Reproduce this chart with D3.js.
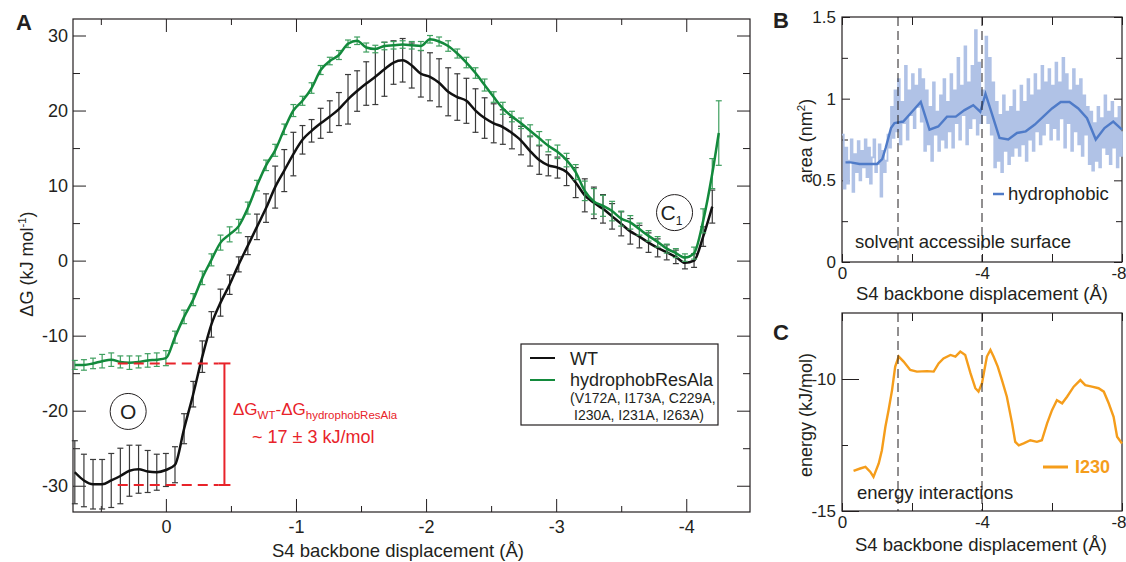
<!DOCTYPE html>
<html lang="en">
<head>
<meta charset="utf-8">
<title>S4 free energy profiles</title>
<script src="https://cdn.jsdelivr.net/npm/d3@7/dist/d3.min.js"></script>
<style>
body { margin: 0; background: #fff; }
svg text { font-family: "Liberation Sans", Arial, sans-serif; fill: #231f20; }
.axis .domain { display: none; }
.axis line { stroke: #231f20; stroke-width: 1; }
.axis text { font-size: 17px; }
.axis.big text { font-size: 18px; }
</style>
</head>
<body>
<script>
// ---- panel A : free energy along S4 displacement ----
var dispA = [0.70, 0.63, 0.56, 0.49, 0.42, 0.35, 0.28, 0.21, 0.14, 0.07, 0.00,
  -0.07, -0.14, -0.21, -0.28, -0.35, -0.42, -0.49, -0.56, -0.63, -0.70,
  -0.77, -0.84, -0.91, -0.98, -1.05, -1.12, -1.19, -1.26, -1.33, -1.40,
  -1.47, -1.54, -1.61, -1.68, -1.75, -1.82, -1.89, -1.96, -2.03, -2.10,
  -2.17, -2.24, -2.31, -2.38, -2.45, -2.52, -2.59, -2.66, -2.73, -2.80,
  -2.87, -2.94, -3.01, -3.08, -3.15, -3.22, -3.29, -3.36, -3.43, -3.50,
  -3.57, -3.64, -3.71, -3.78, -3.85, -3.92, -3.99, -4.06, -4.13, -4.20, -4.25];
var wtG = [-28.2, -29.3, -29.8, -29.8, -29.3, -28.7, -28.0, -27.8, -28.1, -28.2, -27.9,
  -27.2, -22.4, -17.8, -12.8, -8.5, -5.6, -3.2, -0.5, 2.0, 4.5,
  7.0, 9.8, 12.0, 14.2, 16.1, 17.3, 18.3, 19.2, 20.2, 21.5,
  22.6, 23.6, 24.5, 25.5, 26.4, 26.7, 26.0, 24.9, 24.5, 23.7,
  22.5, 21.8, 21.3, 20.0, 19.0, 18.3, 17.8, 17.0, 16.0, 14.6,
  13.4, 12.7, 12.4, 11.8, 10.4, 8.7, 7.7, 6.9, 5.9, 4.9,
  3.9, 3.2, 2.4, 1.7, 1.1, 0.5, -0.3, 0.0, 3.2, 7.2, null];
var wtErr = [4.2, 3.5, 3.3, 3.3, 3.6, 3.7, 3.4, 3.2, 2.8, 2.4, 2.2,
  2.4, 2.0, 1.7, 2.1, 1.7, 1.8, 1.3, 1.0, 1.2, 1.7,
  1.9, 2.8, 2.8, 2.9, 1.9, 1.5, 2.0, 2.1, 2.2, 3.3,
  2.7, 2.9, 3.7, 3.6, 2.9, 2.9, 3.0, 3.1, 3.2, 3.2,
  3.2, 3.1, 3.0, 2.9, 2.7, 2.6, 2.3, 2.1, 1.9, 2.0,
  1.9, 1.4, 1.4, 1.8, 2.0, 2.2, 2.1, 1.9, 1.7, 1.6,
  1.7, 1.5, 1.3, 1.2, 1.0, 0.9, 0.8, 0.9, 1.3, 2.2, null];
var hydG = [-13.9, -13.9, -13.7, -13.4, -13.2, -13.5, -13.6, -13.5, -13.3, -13.2, -13.0,
  -10.2, -7.5, -5.2, -2.3, 0.1, 2.4, 3.5, 4.6, 7.0, 10.0,
  12.7, 14.7, 17.5, 20.0, 21.3, 23.0, 25.4, 26.6, 27.4, 28.9,
  29.3, 28.4, 28.2, 28.6, 28.7, 28.8, 28.7, 28.6, 29.5, 29.2,
  28.6, 27.6, 26.4, 25.0, 23.4, 21.8, 20.3, 19.2, 18.3, 17.3,
  16.3, 15.3, 14.5, 13.4, 11.8, 9.3, 7.9, 7.3, 6.6, 5.6,
  5.1, 4.2, 3.3, 2.5, 1.6, 1.0, 0.4, 1.0, 5.3, 11.6, 17.0];
var hydErr = [0.6, 0.7, 0.7, 0.9, 0.9, 0.8, 0.9, 0.8, 0.9, 0.9, 1.0,
  0.8, 0.9, 0.8, 0.9, 0.8, 1.0, 1.0, 0.9, 0.8, 0.7,
  0.7, 0.8, 0.7, 0.8, 0.6, 0.7, 0.6, 0.5, 0.6, 0.5,
  0.5, 0.6, 0.5, 0.5, 0.5, 0.5, 0.5, 0.6, 0.5, 0.6,
  0.7, 0.6, 0.7, 0.7, 0.8, 0.7, 0.8, 0.7, 0.7, 0.8,
  0.9, 0.8, 0.9, 0.9, 1.0, 1.3, 1.7, 1.4, 1.3, 1.0,
  0.9, 0.8, 0.7, 0.7, 0.6, 0.6, 0.5, 0.8, 1.6, 2.0, 4.3];
var seriesNames = ["WT", "hydrophobResAla"];
var mutantNote = ["(V172A, I173A, C229A,", "I230A, I231A, I263A)"];
var gapLevels = [-13.7, -29.9];   // the two minima compared in red

// ---- panel B : solvent accessible surface ----
var sasaStep = 0.05;
var sasaRaw = [0.78, 0.45, 0.70, 0.48, 0.62, 0.75, 0.43, 0.66, 0.55, 0.74, 0.50, 0.68, 0.58,
  0.75, 0.52, 0.70, 0.48, 0.64, 0.75, 0.55, 0.60, 0.72, 0.40, 0.68, 0.55,
  0.62, 0.78, 0.70, 0.95, 0.76, 1.05,
  0.80, 1.12, 0.72, 0.98, 0.85, 1.20, 0.75, 1.05, 0.90, 1.15, 0.82, 1.08, 0.95, 1.18, 0.86, 1.12,
  0.68, 1.05, 0.72, 0.95, 0.62, 1.10, 0.78, 0.92, 0.68, 1.02, 0.75, 1.12, 0.70, 0.98,
  0.80, 1.15, 0.70, 1.05, 0.85, 1.25, 0.75, 1.08, 0.90, 1.32, 0.72, 1.10, 0.82, 1.20, 0.88, 1.42,
  0.78, 1.22, 0.85, 1.05,
  0.90, 1.38, 0.85, 1.25, 0.78, 1.10,
  0.58, 0.98, 0.62, 0.90, 0.55, 1.02, 0.68, 0.92, 0.60, 0.95, 0.65, 1.05, 0.70, 0.92,
  0.65, 1.08, 0.72, 0.98, 0.62, 1.12, 0.75, 1.02, 0.68, 1.15, 0.80, 1.05, 0.72, 1.20, 0.78, 1.10,
  0.85, 1.18, 0.75, 1.08,
  0.82, 1.22, 0.75, 1.10, 0.88, 1.25, 0.70, 1.15, 0.85, 1.05, 0.68, 1.18, 0.80, 1.08, 0.72, 1.12,
  0.65, 1.02, 0.78, 0.95,
  0.60, 0.92, 0.56, 0.85, 0.62, 0.95, 0.58, 0.88, 0.70, 1.02, 0.66, 0.92, 0.60, 0.98, 0.70, 0.88,
  0.58, 0.95, 0.65, 0.80];
var sasaDisp = [-0.1, -0.25, -0.5, -0.75, -1.0, -1.15, -1.25, -1.4, -1.5, -1.75, -2.0, -2.25,
  -2.5, -2.75, -3.0, -3.25, -3.5, -3.75, -3.95, -4.1, -4.25, -4.5, -4.75, -5.0,
  -5.25, -5.5, -5.75, -6.0, -6.25, -6.5, -6.75, -7.0, -7.25, -7.5, -7.75, -8.0];
var sasaSmooth = [0.61, 0.61, 0.60, 0.60, 0.60, 0.63, 0.70, 0.82, 0.85, 0.86, 0.92, 0.98,
  0.81, 0.83, 0.89, 0.89, 0.93, 0.96, 0.92, 1.03, 0.93, 0.76, 0.75, 0.79,
  0.80, 0.84, 0.89, 0.94, 0.98, 0.98, 0.94, 0.88, 0.75, 0.82, 0.86, 0.81];

// ---- panel C : interaction energy of I230 ----
var enDisp = [-0.33, -0.52, -0.67, -0.81, -0.90, -1.05, -1.14, -1.24, -1.33, -1.43, -1.52,
  -1.62, -1.76, -1.95, -2.14, -2.43, -2.62, -2.76, -2.90, -3.10, -3.24, -3.38, -3.52,
  -3.67, -3.81, -3.90, -4.00, -4.14, -4.24, -4.33, -4.45, -4.57, -4.71, -4.86, -4.95,
  -5.05, -5.19, -5.38, -5.57, -5.71, -5.86, -6.00, -6.14, -6.29, -6.43, -6.62, -6.81,
  -6.95, -7.14, -7.33, -7.48, -7.62, -7.76, -7.86, -8.00];
var enI230 = [-13.48, -13.39, -13.33, -13.52, -13.71, -13.20, -12.70, -11.81, -11.18, -10.42, -9.53,
  -9.15, -9.34, -9.66, -9.72, -9.70, -9.72, -9.41, -9.22, -9.09, -9.15, -8.96, -9.09,
  -9.78, -10.35, -10.48, -10.16, -9.15, -8.90, -9.15, -9.53, -10.04, -10.67, -11.68, -12.38,
  -12.51, -12.44, -12.32, -12.38, -12.32, -11.68, -11.18, -10.80, -10.92, -10.67, -10.29, -10.04,
  -10.23, -10.29, -10.35, -10.48, -10.92, -11.43, -12.19, -12.44];
var guideDisp = [-1.6, -4.0];

var xTitle = "S4 backbone displacement (\u00c5)";
var black = "#231f20", green = "#138a3c", greenBar = "#3f9f5f", red = "#e8232a",
    blueLight = "#b0c2e6", blue = "#4f7bc8", orange = "#f59d1b";

var svg = d3.select("body").append("svg")
  .attr("width", 1126)
  .attr("height", 562);

function fmt(d) { return String(d); }

// draws a boxed frame with inward ticks on all four sides
function frame(x, y, o) {
  var x0 = x.range()[0], x1 = x.range()[1], y0 = y.range()[0], y1 = y.range()[1];
  var g = svg.append("g");
  function put(axis, tr, vals, size, labels, pad) {
    axis.tickValues(vals).tickSize(-size).tickPadding(pad || 6)
        .tickFormat(labels ? fmt : "");
    return g.append("g").attr("class", "axis" + (o.big ? " big" : ""))
      .attr("transform", tr).call(axis);
  }
  var bottom = put(d3.axisBottom(x), "translate(0," + y0 + ")", o.xMajor, o.xMajorLen, true, o.xPad);
  put(d3.axisBottom(x), "translate(0," + y0 + ")", o.xMinor, o.xMinorLen, false);
  put(d3.axisTop(x), "translate(0," + y1 + ")", o.xMajor, o.xMajorLen, false);
  put(d3.axisTop(x), "translate(0," + y1 + ")", o.xMinor, o.xMinorLen, false);
  put(d3.axisLeft(y), "translate(" + x0 + ",0)", o.yMajor, o.yMajorLen, true, o.yPad);
  put(d3.axisLeft(y), "translate(" + x0 + ",0)", o.yMinor, o.yMinorLen, false);
  if (o.rightTicks) {
    put(d3.axisRight(y), "translate(" + x1 + ",0)", o.yMajor, o.yMajorLen, false);
    put(d3.axisRight(y), "translate(" + x1 + ",0)", o.yMinor, o.yMinorLen, false);
  }
  // last label sits at the page edge
  if (o.endLabel) {
    bottom.selectAll(".tick text")
      .filter(function(d) { return d === o.endLabel; })
      .attr("text-anchor", "end").attr("x", 4);
  }
  g.append("rect")
    .attr("x", x0).attr("y", y1)
    .attr("width", x1 - x0).attr("height", y0 - y1)
    .attr("fill", "none").attr("stroke", black).attr("stroke-width", 1.2);
  return g;
}

function label(txt, x, y, size, opts) {
  opts = opts || {};
  var t = svg.append("text").attr("x", x).attr("y", y)
    .attr("font-size", size).text(txt);
  if (opts.anchor) t.attr("text-anchor", opts.anchor);
  if (opts.bold) t.attr("font-weight", "bold");
  if (opts.fill) t.style("fill", opts.fill);
  return t;
}

// ================= panel A =================
var xA = d3.scaleLinear().domain([0.714, -4.49]).range([73, 750]);
var yA = d3.scaleLinear().domain([-33.5, 32.2]).range([512, 19]);

frame(xA, yA, {
  xMajor: [0, -1, -2, -3, -4], xMinor: [0.5, -0.5, -1.5, -2.5, -3.5],
  xMajorLen: 13, xMinorLen: 6, xPad: 8,
  yMajor: [-30, -20, -10, 0, 10, 20, 30], yMinor: [-25, -15, -5, 5, 15, 25],
  yMajorLen: 13, yMinorLen: 7, yPad: 5, rightTicks: true, big: true
});

var ptsWT = dispA.map(function(d, i) { return {x: d, y: wtG[i], e: wtErr[i]}; })
  .filter(function(p) { return p.y !== null; });
var ptsHyd = dispA.map(function(d, i) { return {x: d, y: hydG[i], e: hydErr[i]}; });

function errorBars(pts, color) {
  var g = svg.append("g").attr("stroke", color).attr("stroke-width", 1.2);
  pts.forEach(function(p) {
    var cx = xA(p.x), top = yA(p.y + p.e), bot = yA(p.y - p.e);
    g.append("line").attr("x1", cx).attr("x2", cx).attr("y1", top).attr("y2", bot);
    g.append("line").attr("x1", cx - 3).attr("x2", cx + 3).attr("y1", top).attr("y2", top);
    g.append("line").attr("x1", cx - 3).attr("x2", cx + 3).attr("y1", bot).attr("y2", bot);
  });
}

var lineA = d3.line()
  .x(function(p) { return xA(p.x); })
  .y(function(p) { return yA(p.y); })
  .curve(d3.curveMonotoneX);

errorBars(ptsWT, "#3a3a3a");
svg.append("path").datum(ptsWT).attr("d", lineA)
  .attr("fill", "none").attr("stroke", "#111").attr("stroke-width", 2.5);
errorBars(ptsHyd, greenBar);
svg.append("path").datum(ptsHyd).attr("d", lineA)
  .attr("fill", "none").attr("stroke", green).attr("stroke-width", 2.5);

// red gap annotation
var gapX = xA(-0.45);
gapLevels.forEach(function(v) {
  svg.append("line")
    .attr("x1", xA(0.37)).attr("x2", gapX - 6)
    .attr("y1", yA(v)).attr("y2", yA(v))
    .attr("stroke", red).attr("stroke-width", 2).attr("stroke-dasharray", "10,6");
  svg.append("line")
    .attr("x1", gapX - 6).attr("x2", gapX + 6)
    .attr("y1", yA(v)).attr("y2", yA(v))
    .attr("stroke", red).attr("stroke-width", 2);
});
svg.append("line")
  .attr("x1", gapX).attr("x2", gapX)
  .attr("y1", yA(gapLevels[0])).attr("y2", yA(gapLevels[1]))
  .attr("stroke", red).attr("stroke-width", 2);

var dg = svg.append("text").attr("x", 233).attr("y", 415)
  .attr("font-size", 17).style("fill", red);
dg.append("tspan").text("\u0394G");
dg.append("tspan").attr("font-size", 11.5).attr("dy", 4).text("WT");
dg.append("tspan").attr("dy", -4).text("-\u0394G");
dg.append("tspan").attr("font-size", 11.5).attr("dy", 4).text("hydrophobResAla");
label("~ 17 \u00b1 3 kJ/mol", 252, 443, 18, {fill: red});

// state markers
function stateMark(cx, cy, main, sub) {
  svg.append("circle").attr("cx", cx).attr("cy", cy).attr("r", 18)
    .attr("fill", "none").attr("stroke", black).attr("stroke-width", 1);
  var t = svg.append("text").attr("x", cx - (sub ? 3 : 0)).attr("y", cy + 7.5)
    .attr("font-size", 21).attr("text-anchor", "middle").text(main);
  if (sub) t.append("tspan").attr("font-size", 12).attr("dy", 5).text(sub);
}
stateMark(xA(0.29), yA(-20.1), "O");
stateMark(xA(-3.91), yA(6.4), "C", "1");

// legend A
svg.append("rect").attr("x", 521).attr("y", 344).attr("width", 197).attr("height", 81)
  .attr("fill", "#fff").attr("stroke", black).attr("stroke-width", 1.2);
[["#111", 358], [green, 380]].forEach(function(s) {
  svg.append("line").attr("x1", 530).attr("x2", 555).attr("y1", s[1]).attr("y2", s[1])
    .attr("stroke", s[0]).attr("stroke-width", 2);
});
label(seriesNames[0], 570, 365, 18);
label(seriesNames[1], 570, 386, 18);
label(mutantNote[0], 570, 403, 14);
label(mutantNote[1], 574, 420, 14);

label(xTitle, 398, 557, 18.5, {anchor: "middle"});
var yt = svg.append("text").attr("transform", "translate(33,264) rotate(-90)")
  .attr("text-anchor", "middle").attr("font-size", 18);
yt.append("tspan").text("\u0394G (kJ mol");
yt.append("tspan").attr("font-size", 11.5).attr("dy", -7).text("-1");
yt.append("tspan").attr("dy", 7).text(")");
label("A", 16, 30, 22, {bold: true});

// ================= panel B =================
var xB = d3.scaleLinear().domain([0, -8]).range([842, 1122]);
var yB = d3.scaleLinear().domain([0, 1.5]).range([262, 17]);

frame(xB, yB, {
  xMajor: [0, -4, -8], xMinor: [-2, -6], xMajorLen: 8, xMinorLen: 8, xPad: 5,
  yMajor: [0, 0.5, 1, 1.5], yMinor: [0.25, 0.75, 1.25], yMajorLen: 8, yMinorLen: 6,
  yPad: 6, rightTicks: true, endLabel: -8
});

svg.append("path").datum(sasaRaw)
  .attr("d", d3.line()
    .x(function(v, i) { return xB(-i * sasaStep); })
    .y(function(v) { return yB(v); })
    .curve(d3.curveStepAfter))
  .attr("fill", "none").attr("stroke", blueLight).attr("stroke-width", 1.8);
svg.append("path").datum(sasaDisp.map(function(d, i) { return [d, sasaSmooth[i]]; }))
  .attr("d", d3.line()
    .x(function(p) { return xB(p[0]); })
    .y(function(p) { return yB(p[1]); }))
  .attr("fill", "none").attr("stroke", blue).attr("stroke-width", 2.4);

function guides(x, y) {
  guideDisp.forEach(function(d) {
    svg.append("line").attr("x1", x(d)).attr("x2", x(d))
      .attr("y1", y.range()[1]).attr("y2", y.range()[0])
      .attr("stroke", black).attr("stroke-width", 1).attr("stroke-dasharray", "9,5");
  });
}
guides(xB, yB);

svg.append("line").attr("x1", 993).attr("x2", 1004).attr("y1", 194).attr("y2", 194)
  .attr("stroke", blue).attr("stroke-width", 2.5);
label("hydrophobic", 1008, 200, 18.5);
label("solvent accessible surface", 855, 248, 18.5);
label(xTitle, 982, 300, 18.5, {anchor: "middle"});
var ytB = svg.append("text").attr("transform", "translate(812,141) rotate(-90)")
  .attr("text-anchor", "middle").attr("font-size", 18);
ytB.append("tspan").text("area (nm");
ytB.append("tspan").attr("font-size", 11.5).attr("dy", -7).text("2");
ytB.append("tspan").attr("dy", 7).text(")");
label("B", 773, 28, 22, {bold: true});

// ================= panel C =================
var xC = d3.scaleLinear().domain([0, -8]).range([842, 1122]);
var yC = d3.scaleLinear().domain([-15, -7.5]).range([511, 313]);

frame(xC, yC, {
  xMajor: [0, -4, -8], xMinor: [-2, -6], xMajorLen: 8, xMinorLen: 8, xPad: 5,
  yMajor: [-15, -10], yMinor: [-12.5], yMajorLen: 17, yMinorLen: 6,
  yPad: 6, rightTicks: false, endLabel: -8
});

svg.append("path").datum(enDisp.map(function(d, i) { return [d, enI230[i]]; }))
  .attr("d", d3.line()
    .x(function(p) { return xC(p[0]); })
    .y(function(p) { return yC(p[1]); }))
  .attr("fill", "none").attr("stroke", orange).attr("stroke-width", 2.4);
guides(xC, yC);

svg.append("line").attr("x1", 1043).attr("x2", 1068).attr("y1", 467).attr("y2", 467)
  .attr("stroke", orange).attr("stroke-width", 3);
label("I230", 1075, 473, 18, {bold: true, fill: orange});
label("energy interactions", 857, 499, 18.5);
label(xTitle, 981, 551, 18.5, {anchor: "middle"});
svg.append("text").attr("transform", "translate(812,415) rotate(-90)")
  .attr("text-anchor", "middle").attr("font-size", 18).text("energy (kJ/mol)");
label("C", 773, 340, 22, {bold: true});
</script>
</body>
</html>
